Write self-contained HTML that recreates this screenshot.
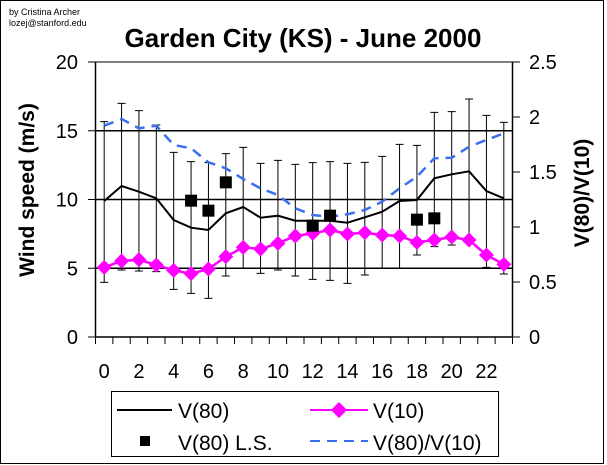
<!DOCTYPE html>
<html><head><meta charset="utf-8"><style>
html,body{margin:0;padding:0;background:#fff}
svg{display:block}
text{font-family:"Liberation Sans",Arial,sans-serif}
</style></head><body>
<svg id="s" width="607" height="465" viewBox="0 0 607 465" xmlns="http://www.w3.org/2000/svg">
<rect x="0.5" y="0.5" width="603" height="463" fill="#fff" stroke="#000"/>
<text x="9" y="15" font-size="9">by Cristina Archer</text>
<text x="9" y="26" font-size="9">lozej@stanford.edu</text>
<text x="303" y="47" font-size="26" font-weight="bold" text-anchor="middle">Garden City (KS) - June 2000</text>
<text transform="translate(34,190) rotate(-90)" font-size="21" font-weight="bold" text-anchor="middle">Wind speed (m/s)</text>
<text transform="translate(589,193) rotate(-90)" font-size="21" font-weight="bold" text-anchor="middle">V(80)/V(10)</text>
<g id="g"></g>
<rect x="111.5" y="391.5" width="387" height="65" fill="#fff" stroke="#000"/>
<line x1="117" y1="410" x2="172" y2="410" stroke="#000" stroke-width="2"/>
<text x="178" y="418" font-size="21">V(80)</text>
<line x1="310" y1="410" x2="368" y2="410" stroke="#f0f" stroke-width="2"/>
<polygon points="339,402 347,410 339,418 331,410" fill="#f0f"/>
<text x="373" y="418" font-size="21">V(10)</text>
<rect x="140" y="436" width="10" height="10" fill="#000"/>
<text x="178" y="450" font-size="21">V(80) L.S.</text>
<line x1="310" y1="441" x2="368" y2="441" stroke="#3a6ff0" stroke-width="2" stroke-dasharray="10,7"/>
<text x="373" y="450" font-size="21">V(80)/V(10)</text>
</svg>
<script>
var g=document.getElementById('g'),h='';
var L=95.5,R=512.5,T=62,B=337;
function Y(z){return 55+z/3}
function X(i){return L+17.375*(i+0.5)}
[15,10,5].forEach(function(v){var y=B-v*13.75;h+='<line x1="'+L+'" y1="'+y+'" x2="'+R+'" y2="'+y+'" stroke="#000" stroke-width="1.5"/>'});
h+='<line x1="'+L+'" y1="'+T+'" x2="'+R+'" y2="'+T+'" stroke="#000" stroke-width="1"/>';
h+='<line x1="'+L+'" y1="'+T+'" x2="'+L+'" y2="'+B+'" stroke="#000" stroke-width="1.5"/>';
h+='<line x1="'+R+'" y1="'+T+'" x2="'+R+'" y2="'+B+'" stroke="#000" stroke-width="1.5"/>';
h+='<line x1="'+L+'" y1="'+B+'" x2="'+R+'" y2="'+B+'" stroke="#000" stroke-width="1.5"/>';
for(var v=0;v<=20;v+=5){var y=B-v*13.75;h+='<line x1="88" y1="'+y+'" x2="'+L+'" y2="'+y+'" stroke="#000"/>';h+='<text x="78" y="'+(y+7)+'" font-size="20" text-anchor="end">'+v+'</text>';}
var rl=['0','0.5','1','1.5','2','2.5'];
for(var k=0;k<6;k++){var y=B-k*55;h+='<line x1="'+R+'" y1="'+y+'" x2="520" y2="'+y+'" stroke="#000"/>';h+='<text x="529" y="'+(y+7)+'" font-size="20">'+rl[k]+'</text>';}
for(var i=0;i<=24;i++){var x=L+17.375*i;h+='<line x1="'+x+'" y1="'+B+'" x2="'+x+'" y2="344" stroke="#000"/>';}
for(var i=0;i<24;i+=2){h+='<text x="'+X(i)+'" y="378" font-size="20" text-anchor="middle">'+i+'</text>';}
var eb=[[200,682],[145,645],[167,648],[210,650],[292,703],[320,715],[323,730],[296,663],[277,640],[325,655],[316,645],[328,663],[323,673],[320,676],[325,685],[322,660],[304,640],[268,640],[271,600],[172,575],[170,570],[132,555],[181,637],[202,657]];
eb.forEach(function(e,i){var x=X(i),a=Y(e[0]),b=Y(e[1]);h+='<path d="M'+x+' '+a+'V'+b+'M'+(x-4)+' '+a+'H'+(x+4)+'M'+(x-4)+' '+b+'H'+(x+4)+'" stroke="#000" fill="none"/>';});
var v80=[438,393,410,430,495,518,525,475,456,488,482,497,497,497,503,487,470,438,435,370,358,349,408,430];
var v10=[637,618,614,630,646,656,642,605,577,582,565,543,535,525,537,533,540,543,562,555,546,555,600,628];
var rat=[212,192,220,212,270,280,322,340,372,400,420,460,480,485,478,465,440,400,365,310,308,275,255,235];
function pts(a){return a.map(function(z,i){return X(i).toFixed(1)+','+Y(z).toFixed(1)}).join(' ')}
h+='<polyline points="'+pts(rat)+'" fill="none" stroke="#3a6ff0" stroke-width="2.5" stroke-dasharray="10,7"/>';
h+='<polyline points="'+pts(v80)+'" fill="none" stroke="#000" stroke-width="2"/>';
h+='<polyline points="'+pts(v10)+'" fill="none" stroke="#f0f" stroke-width="2.5"/>';
v10.forEach(function(z,i){var x=X(i),y=Y(z);h+='<polygon points="'+x+','+(y-7.5)+' '+(x+7.5)+','+y+' '+x+','+(y+7.5)+' '+(x-7.5)+','+y+'" fill="#f0f"/>';});
var ls={5:437,6:467,7:382,12:512,13:482,18:494,19:490};
for(var k in ls){var x=X(+k),y=Y(ls[k]);h+='<rect x="'+(x-6)+'" y="'+(y-6)+'" width="12" height="12" fill="#000"/>';}
g.innerHTML=h;
</script>
</body></html>
